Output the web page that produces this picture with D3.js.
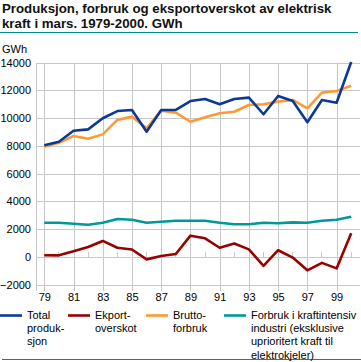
<!DOCTYPE html>
<html>
<head>
<meta charset="utf-8">
<script src="https://d3js.org/d3.v7.min.js"></script>
<style>
body { margin: 0; background: #fff; }
text { font-family: "Liberation Sans", Arial, sans-serif; }
</style>
</head>
<body>
<div id="chart"></div>
<script>
// data (GWh, march each year)
var years = d3.range(1979, 2001);
var totalProd = [8030, 8290, 9080, 9180, 9980, 10500, 10580, 9010, 10580, 10580, 11220, 11370,
                 10990, 11370, 11470, 10270, 11590, 11220, 9690, 11300, 11100, 14040];
var brutto = [7930, 8220, 8700, 8510, 8820, 9860, 10100, 9260, 10530, 10380, 9730, 10050,
              10340, 10450, 10940, 10990, 11180, 11300, 10700, 11830, 11950, 12330];
var eksport = [110, 100, 400, 700, 1140, 650, 520, -190, 50, 200, 1520, 1330,
               650, 960, 530, -650, 470, -60, -980, -440, -840, 1700];
var kraftint = [2450, 2450, 2380, 2310, 2450, 2720, 2670, 2450, 2520, 2600, 2600, 2600,
                2450, 2340, 2340, 2450, 2410, 2480, 2450, 2600, 2670, 2880];
var yTicks = [-2000, 0, 2000, 4000, 6000, 8000, 10000, 12000, 14000];
var xLabelYears = d3.range(1979, 2000, 2);
var titleLines = ["Produksjon, forbruk og eksportoverskot av elektrisk", "kraft i mars. 1979-2000. GWh"];

var series = [
  {name: ["Total", "produk-", "sjon"], values: totalProd, color: "#0a3a96", lx: 0},
  {name: ["Ekport-", "overskot"], values: eksport, color: "#990000", lx: 68},
  {name: ["Brutto-", "forbruk"], values: brutto, color: "#ff9933", lx: 146},
  {name: ["Forbruk i kraftintensiv", "industri (eksklusive", "uprioritert kraft til", "elektrokjeler)"], values: kraftint, color: "#009999", lx: 224}
];

var W = 361, H = 362;
var plotLeft = 36, plotRight = 360, plotTop = 62.5, plotBottom = 284.5;

var svg = d3.select("#chart").append("svg")
  .attr("width", W).attr("height", H);

// title, one text block with two lines, stretched a bit to the original width
var title = svg.append("text").attr("x", 0).attr("y", 13.5)
  .attr("font-size", 12.5).attr("font-weight", "bold").attr("fill", "#111");
titleLines.forEach(function(str, i) {
  title.append("tspan").attr("x", 0).attr("dy", i === 0 ? 0 : 14.5).text(str);
});
var natural = title.select("tspan").node().getComputedTextLength();
title.attr("transform", "translate(2,0) scale(" + (330 / natural) + ",1)");

svg.append("line").attr("x1", 0).attr("x2", 358).attr("y1", 32.5).attr("y2", 32.5)
  .attr("stroke", "#008c8c").attr("stroke-width", 1);
svg.append("line").attr("x1", 2).attr("x2", 361).attr("y1", 359.5).attr("y2", 359.5)
  .attr("stroke", "#008c8c").attr("stroke-width", 1);

var x = d3.scaleLinear().domain([1979, 2000]).range([44.3, 351.2]);
var y = d3.scaleLinear().domain([-2000, 14000]).range([plotBottom, plotTop]);

// horizontal grid + y labels
var yAxis = svg.append("g")
  .attr("transform", "translate(" + plotLeft + ",0)")
  .call(d3.axisLeft(y).tickValues(yTicks).tickSize(-(plotRight - plotLeft)).tickPadding(5).tickFormat(d3.format("d")));
yAxis.select(".domain").remove();
yAxis.selectAll(".tick line").attr("stroke", "#c8c8c8").attr("shape-rendering", "crispEdges");
yAxis.selectAll(".tick text").attr("font-size", 11).attr("fill", "#000")
  .attr("font-family", "'Liberation Sans', Arial, sans-serif");

// left border line
svg.append("line").attr("x1", plotLeft).attr("x2", plotLeft)
  .attr("y1", plotTop).attr("y2", plotBottom + 6)
  .attr("stroke", "#c8c8c8").attr("shape-rendering", "crispEdges");

// vertical grid at odd years + labels
var xAxis = svg.append("g")
  .attr("transform", "translate(0," + (plotBottom + 6) + ")")
  .call(d3.axisBottom(x).tickValues(xLabelYears).tickSize(-(plotBottom + 6 - plotTop)).tickPadding(3)
    .tickFormat(function(d) { return d3.format("02d")(d % 100); }));
xAxis.select(".domain").remove();
xAxis.selectAll(".tick line").attr("stroke", "#c8c8c8").attr("shape-rendering", "crispEdges");
xAxis.selectAll(".tick text").attr("font-size", 11).attr("fill", "#000")
  .attr("font-family", "'Liberation Sans', Arial, sans-serif");

// minor ticks at even years on the zero line
var evenYears = d3.range(1980, 2001, 2);
svg.append("g").selectAll("line").data(evenYears).enter().append("line")
  .attr("x1", function(d) { return x(d); }).attr("x2", function(d) { return x(d); })
  .attr("y1", y(0) - 5).attr("y2", y(0))
  .attr("stroke", "#c8c8c8").attr("shape-rendering", "crispEdges");

// lines
var line = d3.line()
  .x(function(d, i) { return x(years[i]); })
  .y(function(d) { return y(d); });

var drawOrder = [3, 1, 2, 0];
drawOrder.forEach(function(k) {
  var s = series[k];
  svg.append("path")
    .datum(s.values)
    .attr("d", line)
    .attr("fill", "none")
    .attr("stroke", s.color)
    .attr("stroke-width", 2.6)
    .attr("stroke-linejoin", "round");
});

// legend
var legend = svg.append("g");
series.forEach(function(s) {
  legend.append("line")
    .attr("x1", s.lx).attr("x2", s.lx + 22)
    .attr("y1", 315.5).attr("y2", 315.5)
    .attr("stroke", s.color).attr("stroke-width", 2.6);
  var t = legend.append("text")
    .attr("x", s.lx + 27).attr("y", 319)
    .attr("font-size", 11).attr("fill", "#000");
  s.name.forEach(function(str, i) {
    t.append("tspan").attr("x", s.lx + 27).attr("dy", i === 0 ? 0 : 13.2).text(str);
  });
});

// GWh unit label
svg.append("text").attr("x", 2).attr("y", 53)
  .attr("font-size", 11).attr("fill", "#000").text("GWh");
</script>
</body>
</html>
